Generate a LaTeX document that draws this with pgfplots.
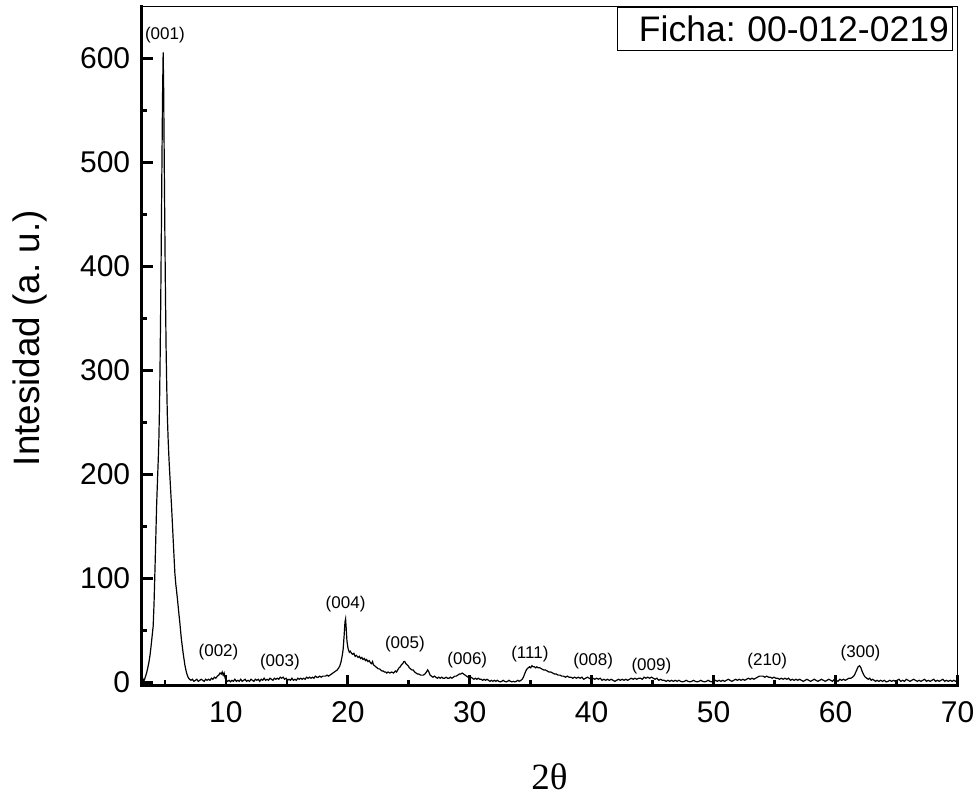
\documentclass[border=0pt]{standalone}
\usepackage{fontspec}
\setmainfont{Liberation Sans}
\newfontfamily\seriffont{Liberation Serif}
\usepackage{pgfplots}
\pgfplotsset{compat=1.18}
\usepackage{pgfplotstable}
\frenchspacing
\pgfplotstableread{
x y
3.10 2
3.18 4
3.26 1
3.34 3
3.42 6
3.50 9
3.60 14
3.70 20
3.78 26
3.86 34
3.95 44
4.04 54
4.11 75
4.18 105
4.25 136
4.32 169
4.40 196
4.46 215
4.51 235
4.56 265
4.61 310
4.66 365
4.71 430
4.76 500
4.81 565
4.86 606
4.90 572
4.95 500
5.00 432
5.05 372
5.10 322
5.15 287
5.20 258
5.27 233
5.35 212
5.45 190
5.55 169
5.65 145
5.75 121
5.82 105
5.90 94
5.96 88
6.05 78
6.15 66
6.23 57
6.35 42
6.50 28
6.65 16
6.78 9
6.90 5
7.02 3
7.14 2
7.26 3
7.38 1
7.50 2
7.62 3
7.74 1
7.86 2
7.98 3
8.10 2
8.22 1
8.34 3
8.46 2
8.58 3
8.70 2
8.82 4
8.94 3
9.06 5
9.18 4
9.30 6
9.42 7
9.52 9
9.62 8
9.70 10
9.78 7
9.86 9
9.94 4
10.02 2
10.14 1
10.26 2
10.38 0.5
10.50 2
10.62 1
10.74 3
10.86 1
10.98 2
11.10 1
11.22 3
11.34 1
11.46 2
11.58 3
11.70 1
11.82 2
11.94 1
12.06 3
12.18 2
12.30 1
12.42 3
12.54 2
12.66 3
12.78 1
12.90 3
13.02 2
13.14 4
13.26 2
13.38 3
13.50 2
13.62 4
13.74 3
13.86 2
13.98 4
14.10 3
14.22 4
14.34 3
14.46 5
14.58 4
14.70 5
14.82 3
14.94 4
15.06 2
15.18 3
15.30 2
15.42 4
15.54 2
15.66 3
15.78 2
15.90 4
16.02 3
16.14 4
16.26 3
16.38 4
16.50 3
16.62 5
16.74 4
16.86 5
16.98 4
17.10 5
17.22 4
17.34 6
17.46 5
17.58 5
17.70 6
17.82 5
17.94 6
18.06 6
18.18 6
18.30 7
18.42 6
18.54 7
18.66 8
18.78 9
18.90 10
19.02 11
19.14 12
19.26 14
19.35 16
19.45 20
19.55 26
19.62 32
19.70 45
19.77 58
19.82 61
19.87 52
19.93 40
20.00 34
20.06 31
20.13 29
20.20 30
20.31 28
20.40 27
20.50 28
20.60 25
20.70 26
20.85 24
20.95 25
21.05 23
21.15 24
21.25 22
21.35 23
21.45 21
21.54 22
21.65 20
21.75 21
21.85 19
21.95 18
22.03 20
22.10 17
22.20 16
22.30 15
22.40 14
22.50 13
22.60 13
22.70 12
22.80 11
22.90 11
23.00 10
23.10 10
23.20 9
23.30 10
23.45 9
23.60 10
23.75 9
23.90 11
24.00 10
24.10 12
24.20 14
24.30 15
24.40 17
24.50 18
24.60 20
24.68 20
24.76 18
24.85 17
24.95 16
25.05 14
25.15 13
25.25 12
25.36 12
25.48 10
25.60 9
25.72 8
25.84 8
25.96 7
26.08 7
26.20 7
26.32 8
26.45 10
26.55 12
26.65 10
26.75 7
26.86 6
26.98 5
27.10 6
27.22 5
27.34 4
27.46 5
27.58 4
27.70 5
27.82 4
27.94 4
28.06 5
28.18 4
28.30 4
28.42 5
28.54 4
28.66 5
28.78 6
28.90 6
29.02 7
29.14 8
29.26 8
29.38 9
29.50 8
29.62 7
29.74 6
29.86 5
29.98 4
30.10 5
30.22 4
30.34 3
30.46 4
30.58 3
30.70 4
30.82 3
30.94 3
31.06 2
31.18 3
31.30 2
31.42 3
31.54 2
31.66 1
31.78 2
31.90 1
32.02 2
32.14 1
32.26 2
32.38 1
32.50 0.5
32.62 1
32.74 2
32.86 1
32.98 0.5
33.10 1
33.22 2
33.34 1
33.46 0.5
33.58 1
33.70 0.5
33.82 1
33.94 2
34.06 1
34.20 2
34.30 3
34.40 5
34.50 8
34.60 11
34.70 13
34.80 14
34.90 15
35.00 14
35.10 16
35.20 15
35.30 15
35.40 14
35.50 15
35.60 14
35.75 14
35.90 13
36.05 12
36.20 12
36.35 11
36.50 10
36.65 10
36.80 9
36.95 8
37.10 8
37.25 7
37.40 7
37.55 6
37.70 6
37.85 5
38.00 6
38.15 5
38.30 5
38.45 4
38.60 5
38.75 4
38.90 5
39.05 4
39.20 5
39.35 3
39.50 4
39.65 5
39.80 4
39.95 3
40.10 4
40.25 3
40.40 4
40.55 3
40.70 4
40.85 2
41.00 3
41.15 2
41.30 3
41.45 2
41.60 3
41.75 2
41.90 1
42.05 2
42.20 3
42.35 2
42.50 3
42.65 2
42.80 3
42.95 2
43.10 3
43.25 4
43.40 3
43.55 4
43.70 3
43.85 4
44.00 4
44.15 3
44.30 5
44.45 4
44.60 5
44.75 4
44.90 5
45.05 4
45.20 3
45.35 4
45.50 2
45.65 3
45.80 2
45.95 2
46.10 1
46.25 2
46.40 1
46.55 2
46.70 1
46.85 2
47.00 1
47.15 2
47.30 1
47.45 0.5
47.60 1
47.75 2
47.90 1
48.05 0.5
48.20 1
48.35 2
48.50 1
48.65 0.5
48.80 1
48.95 2
49.10 1
49.25 0.5
49.40 1
49.55 2
49.70 1
49.85 0.5
50.00 1
50.15 2
50.30 1
50.45 2
50.60 1
50.75 2
50.90 1
51.05 2
51.20 3
51.35 2
51.50 1
51.65 2
51.80 3
51.95 2
52.10 3
52.25 2
52.40 3
52.55 2
52.70 3
52.85 4
53.00 3
53.15 4
53.30 3
53.45 4
53.60 5
53.75 6
53.90 6
54.05 6
54.20 5
54.35 6
54.50 5
54.65 5
54.80 4
54.95 5
55.10 4
55.25 4
55.40 3
55.55 4
55.70 3
55.85 4
56.00 3
56.15 4
56.30 2
56.45 3
56.60 2
56.75 3
56.90 2
57.05 3
57.20 2
57.35 1
57.50 2
57.65 3
57.80 2
57.95 1
58.10 2
58.25 3
58.40 2
58.55 1
58.70 2
58.85 3
59.00 2
59.15 1
59.30 2
59.45 3
59.60 2
59.75 1
59.90 3
60.05 2
60.20 1
60.35 3
60.50 2
60.65 3
60.80 2
60.95 3
61.10 4
61.25 4
61.40 5
61.55 7
61.70 11
61.85 15
61.97 16
62.08 14
62.20 10
62.32 7
62.44 5
62.56 4
62.68 3
62.80 4
62.92 2
63.04 3
63.16 2
63.28 1
63.40 2
63.55 1
63.70 2
63.85 1
64.00 2
64.15 0.5
64.30 1
64.45 2
64.60 1
64.75 2
64.90 1
65.05 2
65.20 3
65.35 1
65.50 2
65.65 1
65.80 3
65.95 2
66.10 1
66.25 2
66.40 3
66.55 2
66.70 1
66.85 2
67.00 1
67.15 2
67.30 3
67.45 1
67.60 2
67.75 1
67.90 2
68.05 3
68.20 1
68.35 2
68.50 1
68.65 2
68.80 3
68.95 1
69.10 2
69.25 1
69.40 2
69.55 1
69.70 2
69.85 1
70.00 2
}\xrd
\begin{document}
\begin{tikzpicture}
\useasboundingbox (0,0) rectangle (489pt,398.5pt);
\begin{axis}[
  scale only axis,
  width=407.9pt, height=339.4pt,
  at={(70.85pt,55.75pt)}, anchor=south west,
  xmin=3.1, xmax=70, ymin=-3, ymax=650,
  xtick={10,20,...,70}, ytick={0,100,...,600},
  minor xtick={5,15,...,65}, minor ytick={50,150,...,550},
  tick pos=left, tick align=inside,
  major tick length=5.5pt, minor tick length=2.75pt,
  every tick/.append style={line width=1.3pt, black},
  axis line style={line width=0.5pt},
  /pgf/number format/assume math mode=true,
  ticklabel style={font=\fontsize{15}{18}\selectfont},
  xticklabel style={yshift=-4.25pt},
  yticklabel style={xshift=-2.25pt},
  xlabel={2θ},
  xlabel style={at={(axis description cs:0.5,-0.1348)}, anchor=center, font=\seriffont\fontsize{18.5}{22}\selectfont},
  ylabel={Intesidad (a. u.)},
  ylabel style={at={(axis description cs:-0.1369,0.5115)}, anchor=center, font=\fontsize{18.4}{22}\selectfont},
  clip=false,
]
\addplot[black, line width=0.6pt, mark=none] table[x=x, y=y] {\xrd};
\draw[line width=1.35pt, line cap=rect] (rel axis cs:0,1) -- (rel axis cs:0,0) -- (rel axis cs:1,0);
\begin{scope}[every node/.style={font=\fontsize{8.5}{10}\selectfont, inner sep=0pt}]
\node at (axis cs:5.0,623) {(001)};
\node at (axis cs:9.4,28.7) {(002)};
\node at (axis cs:14.43,19.8) {(003)};
\node at (axis cs:19.82,75.5) {(004)};
\node at (axis cs:24.68,36.4) {(005)};
\node at (axis cs:29.8,21.2) {(006)};
\node at (axis cs:34.93,26.8) {(111)};
\node at (axis cs:40.12,20.7) {(008)};
\node at (axis cs:44.9,15.9) {(009)};
\node at (axis cs:54.4,20.7) {(210)};
\node at (axis cs:62.05,28.4) {(300)};
\end{scope}
\node[draw, line width=0.5pt, anchor=north east, xshift=-2.4pt, inner xsep=1.7pt, inner ysep=0pt, text width=164pt, align=right, minimum height=21.5pt, font=\fontsize{17.75}{20}\selectfont, fill=white] at (rel axis cs:1,1) {Ficha: 00-012-0219};
\end{axis}
\end{tikzpicture}
\end{document}
